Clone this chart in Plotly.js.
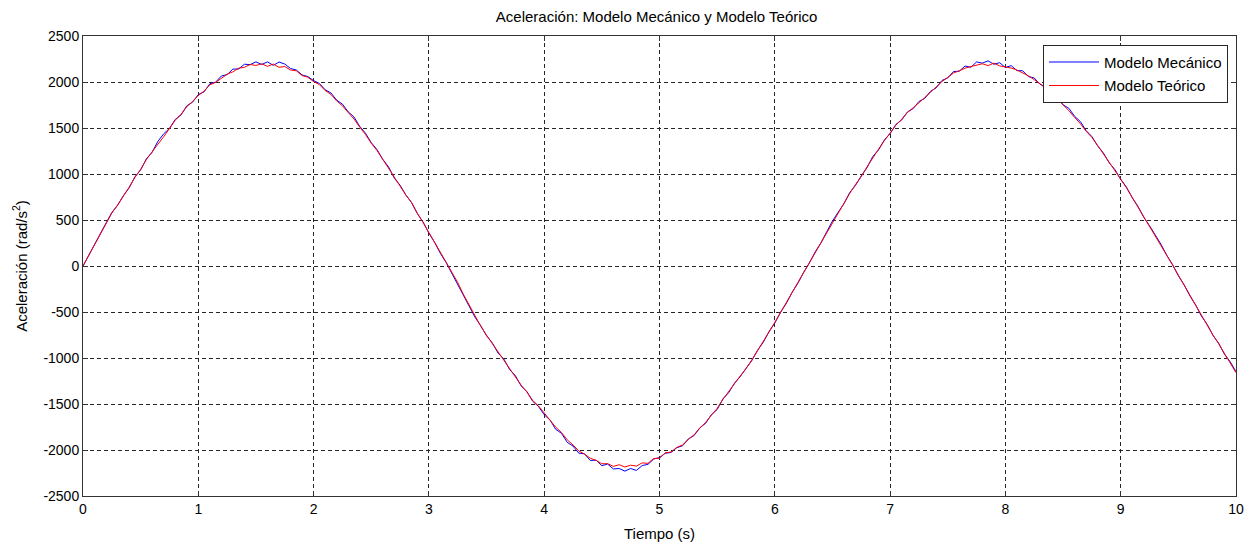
<!DOCTYPE html>
<html>
<head>
<meta charset="utf-8">
<script src="https://cdn.plot.ly/plotly-3.0.1.min.js"></script>
<style>html,body{margin:0;padding:0;background:#fff;}#chart{width:1256px;height:544px;}</style>
</head>
<body>
<div id="chart"></div>
<script>
// Time (s)
const tiempo = [0,0.05,0.1,0.15,0.2,0.25,0.3,0.35,0.4,0.45,0.5,0.55,0.6,0.65,0.7,0.75,0.8,0.85,0.9,0.95,
1,1.05,1.1,1.15,1.2,1.25,1.3,1.35,1.4,1.45,1.5,1.55,1.6,1.65,1.7,1.75,1.8,1.85,1.9,1.95,
2,2.05,2.1,2.15,2.2,2.25,2.3,2.35,2.4,2.45,2.5,2.55,2.6,2.65,2.7,2.75,2.8,2.85,2.9,2.95,
3,3.05,3.1,3.15,3.2,3.25,3.3,3.35,3.4,3.45,3.5,3.55,3.6,3.65,3.7,3.75,3.8,3.85,3.9,3.95,
4,4.05,4.1,4.15,4.2,4.25,4.3,4.35,4.4,4.45,4.5,4.55,4.6,4.65,4.7,4.75,4.8,4.85,4.9,4.95,
5,5.05,5.1,5.15,5.2,5.25,5.3,5.35,5.4,5.45,5.5,5.55,5.6,5.65,5.7,5.75,5.8,5.85,5.9,5.95,
6,6.05,6.1,6.15,6.2,6.25,6.3,6.35,6.4,6.45,6.5,6.55,6.6,6.65,6.7,6.75,6.8,6.85,6.9,6.95,
7,7.05,7.1,7.15,7.2,7.25,7.3,7.35,7.4,7.45,7.5,7.55,7.6,7.65,7.7,7.75,7.8,7.85,7.9,7.95,
8,8.05,8.1,8.15,8.2,8.25,8.3,8.35,8.4,8.45,8.5,8.55,8.6,8.65,8.7,8.75,8.8,8.85,8.9,8.95,
9,9.05,9.1,9.15,9.2,9.25,9.3,9.35,9.4,9.45,9.5,9.55,9.6,9.65,9.7,9.75,9.8,9.85,9.9,9.95,10];

// Aceleración - Modelo Mecánico (rad/s^2)
const modeloMecanico = [0,120,235,364,467,582,659,764,849,969,1045,1165,1237,1356,1437,1495,1593,1641,1741,1780,
1863,1893,1981,1998,2065,2080,2140,2142,2193,2189,2219,2190,2219,2181,2217,2195,2147,2130,2077,2059,
2015,1984,1916,1881,1803,1759,1676,1620,1518,1443,1341,1265,1159,1078,954,878,772,688,570,477,
356,257,136,36,-84,-193,-322,-429,-557,-650,-758,-836,-947,-1011,-1126,-1192,-1303,-1366,-1470,-1526,
-1617,-1673,-1775,-1819,-1917,-1957,-2034,-2042,-2114,-2110,-2171,-2153,-2206,-2201,-2230,-2201,-2222,-2169,-2156,-2098,
-2082,-2036,-2027,-1975,-1954,-1880,-1843,-1758,-1710,-1616,-1560,-1444,-1377,-1274,-1203,-1112,-1030,-917,-829,-712,
-621,-503,-406,-286,-188,-69,33,153,251,371,488,585,677,799,876,980,1069,1191,1262,1370,
1437,1539,1586,1674,1711,1788,1821,1898,1937,2017,2044,2114,2117,2174,2159,2218,2205,2230,2193,2210,
2157,2178,2124,2122,2058,2044,1975,1950,1872,1835,1752,1715,1627,1570,1472,1407,1306,1228,1122,1048,
942,857,742,648,530,438,334,235,115,15,-106,-204,-324,-425,-544,-634,-754,-840,-960,-1041,-1149];

// Aceleración - Modelo Teórico (rad/s^2)
const modeloTeorico = [0,118,232,356,470,575,664,758,856,962,1050,1158,1245,1325,1405,1492,1585,1648,1732,1788,
1855,1900,1970,1995,2040,2085,2110,2150,2160,2190,2180,2198,2170,2195,2160,2168,2130,2122,2070,2052,
2005,1972,1908,1866,1795,1742,1668,1598,1510,1430,1335,1255,1160,1062,965,880,772,690,572,472,
360,258,140,40,-70,-180,-310,-425,-550,-655,-752,-842,-940,-1018,-1118,-1198,-1296,-1370,-1462,-1520,
-1600,-1668,-1752,-1810,-1890,-1945,-2010,-2045,-2090,-2112,-2150,-2148,-2178,-2160,-2185,-2165,-2175,-2140,-2145,-2092,
-2090,-2030,-2022,-1972,-1945,-1885,-1835,-1762,-1700,-1622,-1548,-1450,-1370,-1280,-1196,-1118,-1022,-925,-820,-718,
-612,-508,-398,-290,-180,-72,38,150,255,366,470,580,688,790,885,972,1078,1180,1270,1362,
1442,1530,1595,1668,1720,1780,1830,1888,1945,2005,2050,2098,2122,2150,2168,2180,2198,2178,2205,2175,
2165,2152,2130,2100,2068,2025,1982,1928,1878,1815,1755,1690,1615,1548,1465,1398,1310,1222,1125,1040,
945,850,745,642,535,432,338,228,120,10,-100,-210,-318,-430,-540,-640,-750,-846,-955,-1048,-1160];

const xTicks = [0,1,2,3,4,5,6,7,8,9,10];
const yTicks = [-2500,-2000,-1500,-1000,-500,0,500,1000,1500,2000,2500];

const FONT = 'Liberation Sans, Arial, sans-serif';

const traces = [
  {x: tiempo, y: modeloMecanico, type: 'scatter', mode: 'lines', name: 'Modelo Mecánico', legendgroup: 'a',
   line: {color: '#0000ff', width: 1}},
  {x: tiempo, y: modeloTeorico, type: 'scatter', mode: 'lines', name: 'Modelo Teórico', legendgroup: 'b',
   line: {color: '#ff0000', width: 1}}
];

const axisCommon = {
  showline: true, linecolor: '#333333', linewidth: 1, mirror: 'ticks',
  ticks: 'inside', ticklen: 5, tickcolor: '#333333', tickwidth: 1,
  showgrid: true, gridcolor: '#262626', gridwidth: 1, griddash: '4px,3px',
  zeroline: false, automargin: false, tickfont: {family: FONT, size: 14, color: '#000'}
};

const layout = {
  width: 1256, height: 544,
  margin: {l: 83, r: 20, t: 36, b: 48},
  paper_bgcolor: '#fff', plot_bgcolor: '#fff',
  font: {family: FONT, size: 14, color: '#000'},
  title: {text: 'Aceleración: Modelo Mecánico y Modelo Teórico', x: 0.5228, xanchor: 'center', y: 0.9688, yanchor: 'middle',
          font: {family: FONT, size: 15, color: '#000'}},
  xaxis: Object.assign({}, axisCommon, {range: [0, 10], tickvals: xTicks, ticktext: xTicks.map(String),
    title: {text: 'Tiempo (s)', font: {family: FONT, size: 15, color: '#000'}, standoff: 12}}),
  yaxis: Object.assign({}, axisCommon, {range: [-2500, 2500], tickvals: yTicks, ticktext: yTicks.map(String),
    title: {text: 'Aceleración (rad/s<sup>2</sup>)', font: {family: FONT, size: 15, color: '#000'}, standoff: 12}}),
  showlegend: true,
  legend: {x: 0.8326, y: 0.981, xanchor: 'left', yanchor: 'top', bgcolor: '#fff', bordercolor: '#262626', borderwidth: 1,
           font: {family: FONT, size: 15, color: '#000'}, itemwidth: 50, tracegroupgap: 1}
};

Plotly.newPlot('chart', traces, layout, {displayModeBar: false, staticPlot: true});
</script>
</body>
</html>
